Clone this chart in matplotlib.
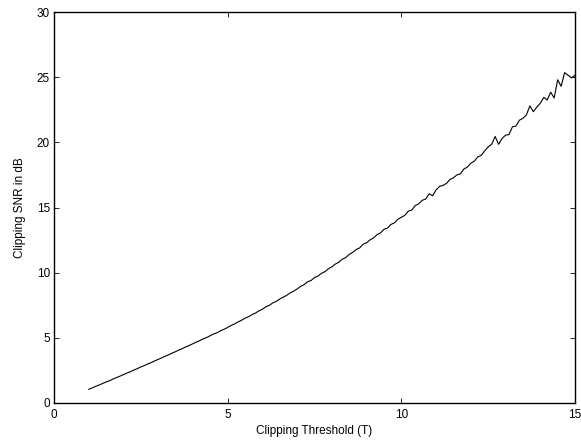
import numpy as np
import matplotlib
matplotlib.use('Agg')
import matplotlib.pyplot as plt

plt.rcParams['font.family'] = ['Liberation Sans', 'DejaVu Sans']

# clipping threshold T, step 0.1 from 1 to 15
threshold = np.round(np.arange(10, 151) / 10.0, 1)

# clipping SNR in dB
snr_db = [
    1.05,
    1.16, 1.28, 1.38, 1.50, 1.62, 1.71, 1.84, 1.95, 2.06, 2.18,
    2.30, 2.40, 2.53, 2.64, 2.77, 2.87, 3.00, 3.10, 3.23, 3.35,
    3.46, 3.59, 3.70, 3.83, 3.94, 4.07, 4.18, 4.31, 4.42, 4.55,
    4.68, 4.79, 4.93, 5.03, 5.17, 5.30, 5.40, 5.55, 5.66, 5.80,
    5.95, 6.07, 6.22, 6.35, 6.51, 6.62, 6.78, 6.90, 7.07, 7.20,
    7.38, 7.50, 7.68, 7.80, 7.98, 8.12, 8.26, 8.45, 8.58, 8.75,
    8.95, 9.08, 9.30, 9.40, 9.62, 9.74, 9.95, 10.08, 10.30, 10.45,
    10.66, 10.80, 11.04, 11.16, 11.40, 11.55, 11.78, 11.90, 12.18, 12.30,
    12.52, 12.66, 12.92, 13.05, 13.33, 13.42, 13.70, 13.82, 14.10, 14.25,
    14.40, 14.72, 14.80, 15.15, 15.28, 15.55, 15.65, 16.05, 15.90, 16.35,
    16.62, 16.70, 16.85, 17.15, 17.28, 17.50, 17.58, 17.95, 18.10, 18.40,
    18.55, 18.88, 19.00, 19.35, 19.65, 19.85, 20.45, 19.85, 20.30, 20.55,
    20.60, 21.20, 21.25, 21.70, 21.85, 22.10, 22.80, 22.35, 22.70, 23.00,
    23.45, 23.25, 23.85, 23.40, 24.80, 24.30, 25.35, 25.15, 24.95, 25.15,
]

xticks = [0, 5, 10, 15]
yticks = [0, 5, 10, 15, 20, 25, 30]

fig = plt.figure(figsize=(5.81, 4.45), dpi=100)
ax = fig.add_axes([0.093, 0.0944, 0.8967, 0.8786])

ax.plot(threshold, snr_db, color='black', linewidth=0.8)

ax.set_xlim(0, 15)
ax.set_ylim(0, 30)
ax.set_xticks(xticks)
ax.set_yticks(yticks)
ax.tick_params(direction='in', length=3.5, width=0.6, labelsize=8.5,
               top=True, right=True, colors='black')
ax.tick_params(axis='x', pad=4)
ax.tick_params(axis='y', pad=3)
for s in ax.spines.values():
    s.set_linewidth(1.0)

ax.set_xlabel('Clipping Threshold (T)', fontsize=8.5, labelpad=3)
ax.set_ylabel('Clipping SNR in dB', fontsize=8.5, labelpad=8)

fig.savefig('out.png', dpi=100)
